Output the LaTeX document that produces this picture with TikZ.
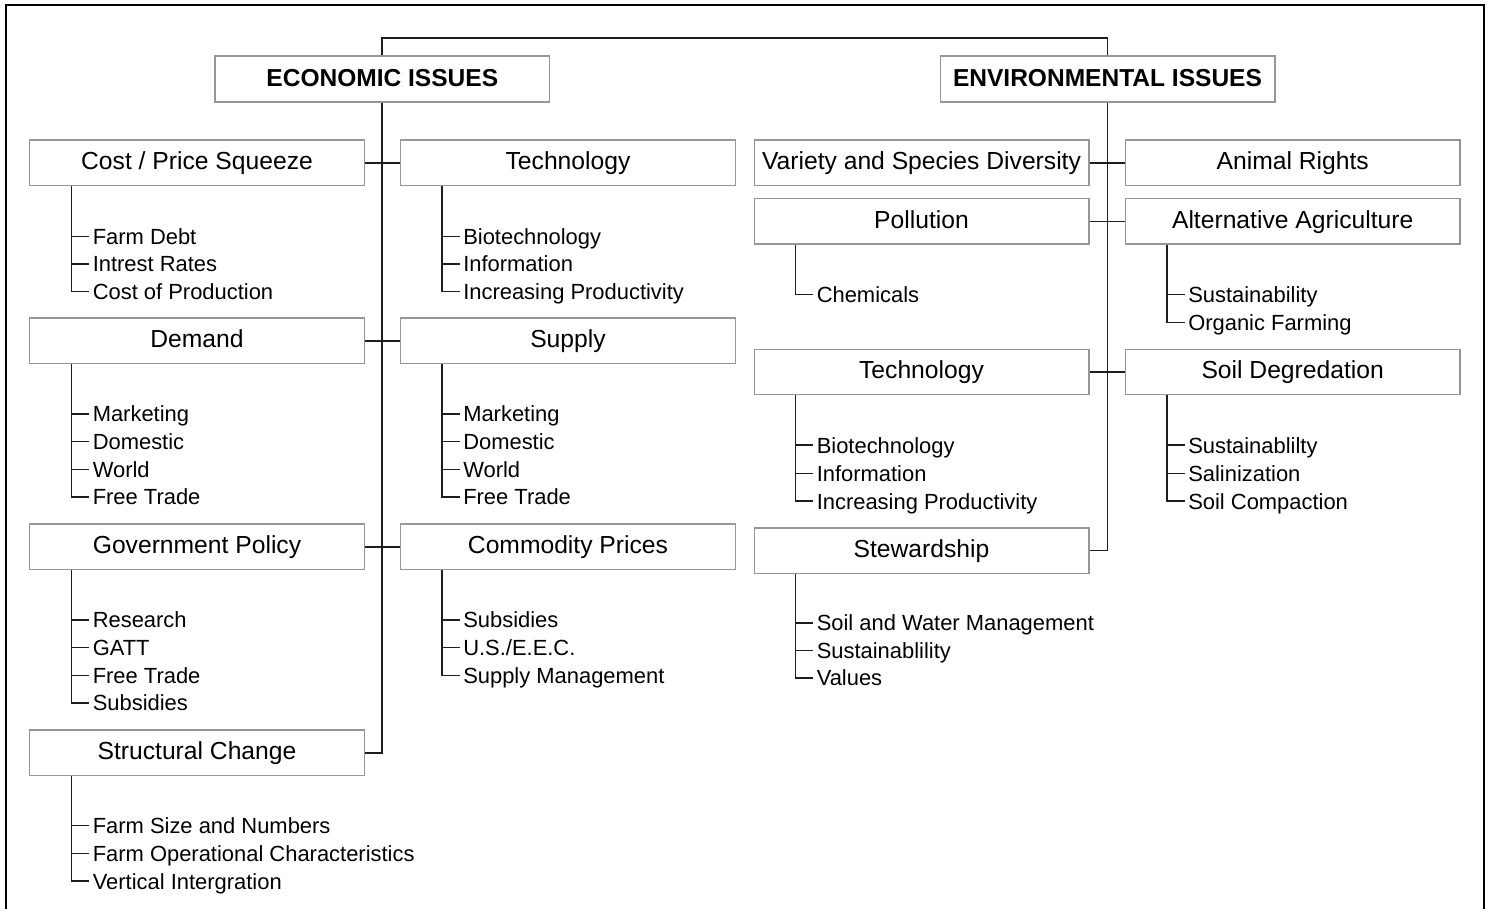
\documentclass[tikz,border=0pt]{standalone}
\usepackage{fontspec}
\setmainfont{Liberation Sans}
\definecolor{boxgray}{RGB}{150,150,150}
\definecolor{linedark}{RGB}{30,30,30}
\begin{document}
\begin{tikzpicture}[x=0.75pt,y=-0.75pt,
  box/.style={draw=boxgray, line width=1.1pt, fill=white, inner sep=0pt,
    minimum width=250.9pt, minimum height=34.1pt,
    font=\fontsize{18.5}{22}\selectfont, text height=13.2pt, text depth=3pt},
  title/.style={box, minimum height=34.5pt, font=\fontsize{18.4}{22}\selectfont\bfseries,
    text depth=2pt},
  item/.style={anchor=west, inner sep=0pt, font=\fontsize{16.45}{19}\selectfont,
    text height=11.8pt, text depth=0pt},
  conn/.style={draw=linedark, line width=1.3pt},
  sub/.style={draw=linedark, line width=1.1pt},
  frame/.style={draw=black, line width=1.6pt}]
\useasboundingbox (0,0) rectangle (1490,909);
\draw[frame] (6,909) -- (6,5) -- (1484,5) -- (1484,909);

% branch from a box down to its last entry, and ticks for the others
\newcommand\branch[2]{\draw[sub] ([xshift=-15.75pt]#2.west |- #1.south) |- ([xshift=-2.6pt]#2.west);}
\newcommand\tick[1]{\draw[sub] ([xshift=-15.75pt]#1.west) -- ([xshift=-2.6pt]#1.west);}

% titles
\node[title] (econ) at (382.3,79) {ECONOMIC ISSUES};
\node[title] (env) at (1107.5,79) {ENVIRONMENTAL ISSUES};
\coordinate (topbar) at (0,38);
\draw[conn] (econ.north) -- (econ.north |- topbar) -- (env.north |- topbar) -- (env.north);

% economic boxes
\node[box] (cps) at (197,162.8) {Cost / Price Squeeze};
\node[box] (etech) at (568,162.8) {Technology};
\node[box] (dem) at (197,340.8) {Demand};
\node[box] (sup) at (568,340.8) {Supply};
\node[box] (gov) at (197,546.8) {Government Policy};
\node[box] (com) at (568,546.8) {Commodity Prices};
\node[box] (str) at (197,752.8) {Structural Change};

\draw[conn] (econ.south) -- (econ.south |- str.east) -- (str.east);
\draw[conn] (cps.east) -- (etech.west);
\draw[conn] (dem.east) -- (sup.west);
\draw[conn] (gov.east) -- (com.west);

% environmental boxes
\node[box] (var) at (921.5,162.8) {Variety and Species Diversity};
\node[box] (ani) at (1292.7,162.8) {Animal Rights};
\node[box] (pol) at (921.5,221.5) {Pollution};
\node[box] (alt) at (1292.7,221.5) {Alternative Agriculture};
\node[box] (vtech) at (921.5,372) {Technology};
\node[box] (soil) at (1292.7,372) {Soil Degredation};
\node[box] (stew) at (921.5,550.5) {Stewardship};

\draw[conn] (env.south) -- (env.south |- stew.east) -- (stew.east);
\draw[conn] (var.east) -- (ani.west);
\draw[conn] (pol.east) -- (alt.west);
\draw[conn] (vtech.east) -- (soil.west);

% economic entries
\node[item] (cps1) at (92.5,236.5) {Farm Debt};
\node[item] (cps2) at (92.5,264) {Intrest Rates};
\node[item] (cps3) at (92.5,291.5) {Cost of Production};
\branch{cps}{cps3}\tick{cps1}\tick{cps2}

\node[item] (et1) at (463,236.5) {Biotechnology};
\node[item] (et2) at (463,264) {Information};
\node[item] (et3) at (463,291.5) {Increasing Productivity};
\branch{etech}{et3}\tick{et1}\tick{et2}

\node[item] (dem1) at (92.5,414) {Marketing};
\node[item] (dem2) at (92.5,441.5) {Domestic};
\node[item] (dem3) at (92.5,469.5) {World};
\node[item] (dem4) at (92.5,497) {Free Trade};
\branch{dem}{dem4}\tick{dem1}\tick{dem2}\tick{dem3}

\node[item] (sup1) at (463,414) {Marketing};
\node[item] (sup2) at (463,441.5) {Domestic};
\node[item] (sup3) at (463,469.5) {World};
\node[item] (sup4) at (463,497) {Free Trade};
\branch{sup}{sup4}\tick{sup1}\tick{sup2}\tick{sup3}

\node[item] (gov1) at (92.5,620) {Research};
\node[item] (gov2) at (92.5,647.5) {GATT};
\node[item] (gov3) at (92.5,675.5) {Free Trade};
\node[item] (gov4) at (92.5,703) {Subsidies};
\branch{gov}{gov4}\tick{gov1}\tick{gov2}\tick{gov3}

\node[item] (com1) at (463,620) {Subsidies};
\node[item] (com2) at (463,647.5) {U.S./E.E.C.};
\node[item] (com3) at (463,675.5) {Supply Management};
\branch{com}{com3}\tick{com1}\tick{com2}

\node[item] (str1) at (92.5,825.5) {Farm Size and Numbers};
\node[item] (str2) at (92.5,853.5) {Farm Operational Characteristics};
\node[item] (str3) at (92.5,881.2) {Vertical Intergration};
\branch{str}{str3}\tick{str1}\tick{str2}

% environmental entries
\node[item] (pol1) at (816.5,294.5) {Chemicals};
\branch{pol}{pol1}

\node[item] (alt1) at (1188,294.5) {Sustainability};
\node[item] (alt2) at (1188,322.5) {Organic Farming};
\branch{alt}{alt2}\tick{alt1}

\node[item] (vt1) at (816.5,445.2) {Biotechnology};
\node[item] (vt2) at (816.5,473.5) {Information};
\node[item] (vt3) at (816.5,501.2) {Increasing Productivity};
\branch{vtech}{vt3}\tick{vt1}\tick{vt2}

\node[item] (soil1) at (1188,445.2) {Sustainablilty};
\node[item] (soil2) at (1188,473.5) {Salinization};
\node[item] (soil3) at (1188,501.2) {Soil Compaction};
\branch{soil}{soil3}\tick{soil1}\tick{soil2}

\node[item] (stew1) at (816.5,623) {Soil and Water Management};
\node[item] (stew2) at (816.5,650.5) {Sustainablility};
\node[item] (stew3) at (816.5,678) {Values};
\branch{stew}{stew3}\tick{stew1}\tick{stew2}
\end{tikzpicture}
\end{document}
